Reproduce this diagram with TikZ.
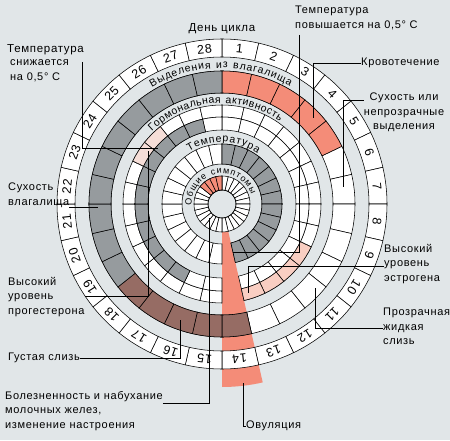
\documentclass[tikz,border=0pt]{standalone}
\usepackage{fontspec}
\setmainfont{Liberation Sans}[LetterSpace=6]
\usetikzlibrary{decorations.text}

\definecolor{fond}{RGB}{225,230,232}
\definecolor{rouge}{RGB}{244,140,120}
\definecolor{rose}{RGB}{249,206,194}
\definecolor{roseclair}{RGB}{246,222,216}
\definecolor{gris}{RGB}{150,155,158}
\definecolor{brun}{RGB}{150,108,100}

% case d'un anneau : rayon int., rayon ext., jour, couleur
\newcommand{\caseanneau}[4]{%
  \pgfmathsetmacro{\angA}{90-(#3-1)*360/28}%
  \pgfmathsetmacro{\angB}{90-#3*360/28}%
  \filldraw[case, fill=#4] (\angA:#1) arc[start angle=\angA, end angle=\angB, radius=#1]
    -- (\angB:#2) arc[start angle=\angB, end angle=\angA, radius=#2] -- cycle;}

\begin{document}
\begin{tikzpicture}[x=1pt, y=1pt,
    case/.style={draw=black, line width=0.55pt},
    legende/.style={font=\fontsize{11}{14.5}\selectfont, align=left, inner sep=0pt},
    renvoi/.style={line width=0.5pt},
    jour/.style={font=\fontsize{12.5}{12}\selectfont, inner sep=0pt}]
  \useasboundingbox (0,0) rectangle (450,440);
  \fill[fond] (0,0) rectangle (450,440);

  \begin{scope}[shift={(222,236)}]
    % ovulation
    \fill[rouge] (-90:28) arc[start angle=-90, end angle=-77.14, radius=28]
      -- (-77.14:183) arc[start angle=-77.14, end angle=-90, radius=183] -- cycle;
    % anneaux blancs
    \foreach \j in {1,...,28} {
      \caseanneau{147}{165}{\j}{white}
      \caseanneau{111}{133}{\j}{white}
      \caseanneau{14}{28}{\j}{white}
    }
    \foreach \j in {1,...,13,15,16,...,28} {
      \caseanneau{87}{99}{\j}{white}
      \caseanneau{74}{87}{\j}{white}
      \caseanneau{40}{60}{\j}{white}
    }
    % couleurs
    \foreach \j in {1,...,5} \caseanneau{111}{133}{\j}{rouge};
    \foreach \j in {14,...,18} \caseanneau{111}{133}{\j}{brun};
    \foreach \j in {19,...,28} \caseanneau{111}{133}{\j}{gris};
    \foreach \j in {10,...,13} \caseanneau{87}{99}{\j}{rose};
    \foreach \j in {24,25} \caseanneau{87}{99}{\j}{roseclair};
    \foreach \j in {17,...,27} \caseanneau{74}{87}{\j}{gris};
    \foreach \j in {1,...,13} \caseanneau{40}{60}{\j}{gris};
    \foreach \j in {25,...,28} \caseanneau{14}{28}{\j}{rouge};
    \draw[case] (0,0) circle[radius=14];

    % jours
    \foreach \j in {1,...,28}
      \node[jour, rotate={-(\j-0.5)*360/28}] (j\j) at ({90-(\j-0.5)*360/28}:156) {\j};

    % titres des anneaux
    \path[decorate, decoration={text along path, text align={fit to path},
      text={|\fontsize{10.5}{10}\selectfont|Выделения из влагалища}}]
      (121:136) arc[start angle=121, end angle=60, radius=136];
    \path[decorate, decoration={text along path, text align={fit to path},
      text={|\fontsize{10.5}{10}\selectfont|Гормональная активность}}]
      (134:101) arc[start angle=134, end angle=55, radius=101];
    \path[decorate, decoration={text along path, text align={fit to path},
      text={|\fontsize{10.5}{10}\selectfont|Температура}}]
      (122:62) arc[start angle=122, end angle=55, radius=62];
    \path[decorate, decoration={text along path, text align={fit to path},
      text={|\fontsize{9}{9}\selectfont|Общие симптомы}}]
      (182:30.5) arc[start angle=182, end angle=18, radius=30.5];
  \end{scope}

  \node[legende, font=\fontsize{11.5}{12}\selectfont] (cycle) at (222,411) {День цикла};

  % legendes a gauche
  \node[legende, anchor=north west] (tbaisse) at (7,396)
    {\fontsize{11.5}{13}\selectfont Температура\\[-1pt]\hspace*{3pt}снижается\\\hspace*{3pt}на 0,5° С};
  \node[legende, anchor=north west] (secheresse) at (8,257) {Сухость\\влагалища};
  \node[legende, anchor=north west] (progest) at (8,163) {Высокий\\уровень\\прогестерона};
  \node[legende, anchor=west] (epaisse) at (8,82) {Густая слизь};
  \node[legende, anchor=north west] (seins) at (5,49)
    {Болезненность и набухание\\молочных желез,\\изменение настроения};

  % legendes a droite
  \node[legende, anchor=north west] (thausse) at (295,434) {Температура\\повышается на 0,5° С};
  \node[legende, anchor=west] (sang) at (361,377) {Кровотечение};
  \node[legende, anchor=north, align=center] (seche) at (404,347)
    {Сухость или\\непрозрачные\\выделения};
  \node[legende, anchor=north west] (estro) at (384,196) {Высокий\\уровень\\эстрогена};
  \node[legende, anchor=north west] (claire) at (383,132) {Прозрачная\\жидкая\\слизь};
  \node[legende, anchor=west] (ovul) at (246,14) {Овуляция};

  % renvois
  \coordinate (a-tbaisse) at (82,378);
  \coordinate (b-tbaisse) at (158,292);
  \draw[renvoi] (a-tbaisse) |- (b-tbaisse);
  \coordinate (b-secheresse) at (98,233);
  \draw[renvoi] (secheresse.east |- b-secheresse) -- (b-secheresse);
  \coordinate (b-progest) at (148,289);
  \draw[renvoi] (progest.east |- 0,144) -| (b-progest);
  \coordinate (b-epaisse) at (180,120);
  \draw[renvoi] (epaisse.east) -| (b-epaisse);
  \coordinate (b-seins) at (209,222);
  \draw[renvoi] (seins.east |- 0,37) -| (b-seins);
  \coordinate (a-thausse) at (299,405);
  \coordinate (b-thausse) at (233,188);
  \draw[renvoi] (a-thausse) |- (b-thausse);
  \coordinate (b-sang) at (313,322);
  \draw[renvoi] (sang.west) -| (b-sang);
  \coordinate (b-seche) at (343,253);
  \draw[renvoi] (seche.west |- 0,340) -| (b-seche);
  \coordinate (b-estro) at (248,147);
  \draw[renvoi] (estro.west |- 0,174) -| (b-estro);
  \coordinate (b-claire) at (315,152);
  \draw[renvoi] (claire.west |- 0,112) -| (b-claire);
  \coordinate (b-ovul) at (243,57);
  \draw[renvoi] (b-ovul) |- (ovul.west);
\end{tikzpicture}
\end{document}
